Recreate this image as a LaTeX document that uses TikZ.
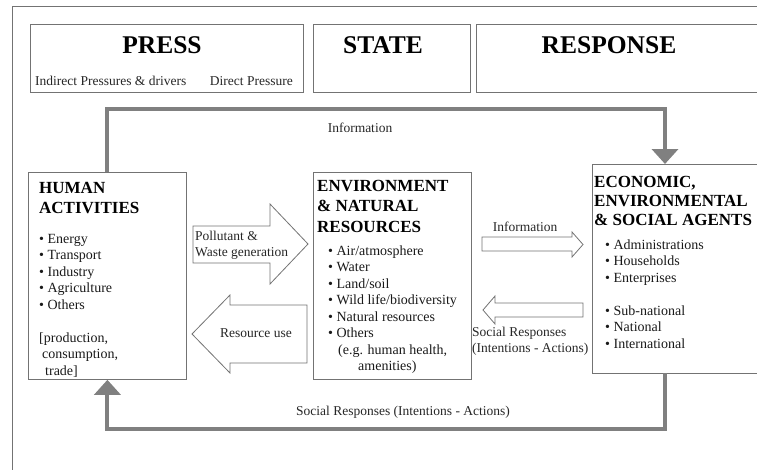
\documentclass[tikz,border=0pt]{standalone}
\usepackage{fontspec}
\setmainfont{Liberation Serif}
\usetikzlibrary{arrows.meta}
\def\bodyfont{\fontsize{14}{16.5}\selectfont}
\def\headfont{\bfseries\fontsize{25.5}{30}\selectfont}
\def\titlefont{\bfseries\fontsize{17}{20.5}\selectfont}
\def\labelfont{\fontsize{13.5}{16}\selectfont}
\colorlet{framegray}{black!55}
\colorlet{loopgray}{black!50}
\tikzset{
  hdbox/.style={draw=framegray, line width=1pt, anchor=north west, inner sep=0pt},
  panel/.style={draw=framegray, line width=0.8pt, anchor=north west, inner sep=0pt},
  txt/.style={anchor=north west, inner sep=0pt, align=left, font=\bodyfont, text=black!90},
  ttl/.style={anchor=north west, inner sep=0pt, align=left, font=\titlefont},
  lbl/.style={inner sep=0pt, font=\labelfont, text=black!85},
  feedback/.style={draw=loopgray, line width=4pt, -{Triangle[width=26pt,length=15pt]}},
  blockarrow/.style={draw=framegray, line width=0.8pt, fill=white},
}

\begin{document}
\begin{tikzpicture}[x=1pt, y=-1pt]
		%%%%% START %%%%%
		\useasboundingbox (0,0) rectangle (757,469);
		\clip (0,0) rectangle (757,469);
		
		\draw[framegray] (12,480) -- (12,6) -- (770,6);
		
		% header
		\node[hdbox, minimum width=273pt, minimum height=68pt] (press) at (30,24) {};
		\node[hdbox, minimum width=157pt, minimum height=68pt] (state) at (313,24) {};
		\node[hdbox, minimum width=290pt, minimum height=68pt] (resp) at (476,24) {};
		\node[font=\headfont, anchor=base] (presst) at (162,53) {PRESS};
		\node[font=\headfont, anchor=base] (statet) at (383,53) {STATE};
		\node[font=\headfont, anchor=base] (respt) at (609,53) {RESPONSE};
		\node[lbl, anchor=base west] (indir) at (35,85) {Indirect Pressures \& drivers};
		\node[lbl, anchor=base east] (dir) at (293,85) {Direct Pressure};
		
		% boxes
		\node[panel, minimum width=158pt, minimum height=207pt] (hum) at (28,172) {};
		\node[panel, minimum width=158pt, minimum height=207pt] (env) at (313,172) {};
		\node[panel, minimum width=175pt, minimum height=209pt] (econ) at (592,164) {};
		
		\node[ttl] (humt) at (39,181.8) {HUMAN\\ACTIVITIES};
		\node[txt] (huml) at (39,233.7) {\textbullet\ Energy\\ \textbullet\ Transport\\ \textbullet\ Industry\\
			\textbullet\ Agriculture\\ \textbullet\ Others\\[16.5pt] {[}production,\\ \hspace{3pt}consumption,\\ \hspace{6pt}trade]};
		
		\node[ttl] (envt) at (317,179.7) {ENVIRONMENT\\\& NATURAL\\RESOURCES};
		\node[txt] (envl) at (328,245.3) {\textbullet\ Air/atmosphere\\ \textbullet\ Water\\ \textbullet\ Land/soil\\
			\textbullet\ Wild life/biodiversity\\ \textbullet\ Natural resources\\ \textbullet\ Others\\
			\hspace{10pt}(e.g. human health,\\ \hspace{30pt}amenities)};
		
		\node[ttl, font=\bfseries\fontsize{17}{19}\selectfont] (econt) at (594,175.7) {ECONOMIC,\\ENVIRONMENTAL\\\& SOCIAL AGENTS};
		\node[txt] (econl) at (605,239.4) {\textbullet\ Administrations\\ \textbullet\ Households\\ \textbullet\ Enterprises\\[16.5pt]
			\textbullet\ Sub-national\\ \textbullet\ National\\ \textbullet\ International};
		
		% block arrows
		\draw[blockarrow] (193,226) -- (270,226) -- (270,204) -- (308,244) -- (270,284) -- (270,263) -- (193,263) -- cycle;
		\node[lbl, anchor=north west, align=left] (poll) at (195,230.8) {Pollutant \&\\Waste generation};
		
		\draw[blockarrow] (307,305) -- (230,305) -- (230,295) -- (192,334) -- (230,373) -- (230,363) -- (307,363) -- cycle;
		\node[lbl, anchor=base] (resuse) at (256,337) {Resource use};
		
		\draw[blockarrow] (482,237) -- (572,237) -- (572,232) -- (583,244.5) -- (572,257) -- (572,251) -- (482,251) -- cycle;
		\node[lbl, anchor=base] (info) at (525,231) {Information};
		
		\draw[blockarrow] (583,303) -- (495,303) -- (495,296) -- (483,310) -- (495,324) -- (495,317) -- (583,317) -- cycle;
		\node[lbl, anchor=north west, align=left] (socresp) at (472,326.8) {Social Responses\\(Intentions - Actions)};
		
		% feedback loops
		\coordinate (econin) at (665,164);
		\coordinate (econout) at (665,373);
		\draw[feedback] (hum.north) -- ++(0,-63) -| (econin);
		\draw[feedback] (econout) -- ++(0,56) -| (hum.south);
		\node[lbl, anchor=base] (topinfo) at (360,132) {Information};
		\node[lbl, anchor=base] (botresp) at (403,415) {Social Responses (Intentions - Actions)};
		
		%%%%% END %%%%%
\end{tikzpicture}
\end{document}
